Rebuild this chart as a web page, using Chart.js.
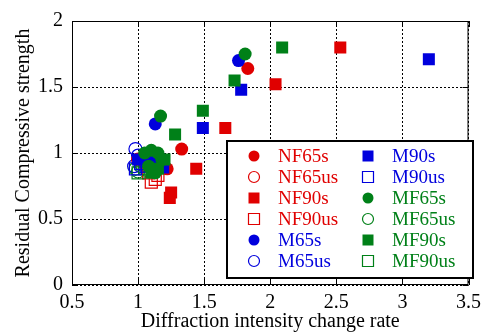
<!DOCTYPE html>
<html>
<head>
<meta charset="utf-8">
<script src="https://cdn.jsdelivr.net/npm/chart.js@4/dist/chart.umd.min.js"></script>
<style>
  html, body { margin: 0; padding: 0; background: #fff; }
  #wrap { width: 487px; height: 336px; }
</style>
</head>
<body>
<div id="wrap"><canvas id="chart"></canvas></div>
<script>
// Data
const xTicks = [0.5, 1, 1.5, 2, 2.5, 3, 3.5];
const yTicks = [0, 0.5, 1, 1.5, 2];

const nf65s  = [[1.83, 1.64], [1.33, 1.03], [1.22, 0.88], [1.12, 0.95]];
const nf65us = [[1.05, 0.92], [1.10, 0.88], [1.00, 0.95]];
const nf90s  = [[2.53, 1.80], [2.04, 1.52], [1.66, 1.19], [1.44, 0.88], [1.25, 0.70], [1.24, 0.66]];
const nf90us = [[1.10, 0.78], [1.13, 0.80], [1.15, 0.83], [1.08, 0.85]];
const m65s   = [[1.76, 1.70], [1.13, 1.22], [1.05, 0.95], [1.10, 0.90]];
const m65us  = [[0.98, 1.03], [1.00, 0.98], [1.02, 0.92], [0.97, 0.90]];
const m90s   = [[3.20, 1.71], [1.78, 1.48], [1.49, 1.19], [1.19, 0.89], [1.08, 0.93], [1.12, 0.97], [1.00, 0.95]];
const m90us  = [[1.02, 0.92], [1.06, 0.90], [1.12, 0.93], [1.15, 0.95], [0.98, 0.88]];
const mf65s  = [[1.81, 1.75], [1.17, 1.28], [1.10, 1.02], [1.15, 1.00], [1.05, 1.00], [1.18, 0.95], [1.08, 0.90], [1.13, 0.85]];
const mf65us = [[0.98, 0.88], [1.00, 0.86], [1.02, 0.90]];
const mf90s  = [[2.09, 1.80], [1.73, 1.55], [1.49, 1.32], [1.28, 1.14], [1.20, 0.95], [1.15, 0.88], [1.10, 0.85]];
const mf90us = [[1.00, 0.85], [1.05, 0.88], [1.03, 0.92]];

const RED = '#e00000', BLUE = '#0000dd', GREEN = '#008018';

function series(label, pts, color, shape, filled, order) {
    return {
        label: label,
        data: pts.map(p => ({ x: p[0], y: p[1] })),
        pointStyle: shape,
        pointRadius: shape === 'rect' ? 8.5 : 6.5,
        pointHoverRadius: shape === 'rect' ? 8.5 : 6.5,
        backgroundColor: filled ? color : 'rgba(0,0,0,0)',
        borderColor: color,
        borderWidth: filled ? 0 : 1.2,
        order: order
    };
}

const datasets = [
    series('NF65s', nf65s, RED, 'circle', true, 5),
    series('NF65us', nf65us, RED, 'circle', false, 8),
    series('NF90s', nf90s, RED, 'rect', true, 6),
    series('NF90us', nf90us, RED, 'rect', false, 9),
    series('M65s', m65s, BLUE, 'circle', true, 3),
    series('M65us', m65us, BLUE, 'circle', false, 10),
    series('M90s', m90s, BLUE, 'rect', true, 2),
    series('M90us', m90us, BLUE, 'rect', false, 4),
    series('MF65s', mf65s, GREEN, 'circle', true, 0),
    series('MF65us', mf65us, GREEN, 'circle', false, 11),
    series('MF90s', mf90s, GREEN, 'rect', true, 1),
    series('MF90us', mf90us, GREEN, 'rect', false, 7)
];

const FONT = '"Liberation Serif", "Times New Roman", serif';

// box, inward ticks and legend
const framePlugin = {
    id: 'frame',
    afterDraw(chart) {
        const ctx = chart.ctx;
        const a = chart.chartArea;
        const xs = chart.scales.x, ys = chart.scales.y;
        ctx.save();
        ctx.strokeStyle = '#000';
        ctx.lineWidth = 1;
        ctx.strokeRect(a.left + 0.5, a.top + 0.5, a.right - a.left - 1, a.bottom - a.top - 1);
        ctx.beginPath();
        xTicks.forEach(v => {
            const px = Math.round(xs.getPixelForValue(v)) + 0.5;
            ctx.moveTo(px, a.bottom); ctx.lineTo(px, a.bottom - 6);
            ctx.moveTo(px, a.top); ctx.lineTo(px, a.top + 6);
        });
        yTicks.forEach(v => {
            const py = Math.round(ys.getPixelForValue(v)) + 0.5;
            ctx.moveTo(a.left, py); ctx.lineTo(a.left + 6, py);
            ctx.moveTo(a.right, py); ctx.lineTo(a.right - 6, py);
        });
        ctx.stroke();

        // legend box
        const bx = 227, by = 141, bw = 246, bh = 137;
        ctx.fillStyle = '#fff';
        ctx.fillRect(bx, by, bw, bh);
        ctx.lineWidth = 2;
        ctx.strokeRect(bx, by, bw, bh);

        ctx.font = '19px ' + FONT;
        ctx.textBaseline = 'middle';
        ctx.textAlign = 'left';
        chart.data.datasets.forEach((ds, i) => {
            const col = Math.floor(i / 6), row = i % 6;
            const mx = col === 0 ? 254 : 368;
            const my = 156 + row * 21;
            ctx.beginPath();
            if (ds.pointStyle === 'circle') {
                ctx.arc(mx, my, 5.5, 0, Math.PI * 2);
            } else {
                ctx.rect(mx - 5.5, my - 5.5, 11, 11);
            }
            if (ds.backgroundColor !== 'rgba(0,0,0,0)') {
                ctx.fillStyle = ds.borderColor;
                ctx.fill();
            } else {
                ctx.strokeStyle = ds.borderColor;
                ctx.lineWidth = 1.2;
                ctx.stroke();
            }
            ctx.fillStyle = ds.borderColor;
            ctx.fillText(ds.label, mx + 24, my + 1);
        });
        ctx.restore();
    }
};

new Chart(document.getElementById('chart'), {
    type: 'scatter',
    data: { datasets: datasets },
    options: {
        responsive: true,
        maintainAspectRatio: false,
        animation: false,
        layout: { padding: { top: 18, right: 13, left: 0, bottom: 0 } },
        plugins: {
            legend: { display: false },
            tooltip: { enabled: false }
        },
        scales: {
            x: {
                type: 'linear',
                min: 0.5, max: 3.5,
                afterBuildTicks: s => { s.ticks = xTicks.map(v => ({ value: v })); },
                afterFit: s => { s.height = 51; },
                grid: { color: '#000', lineWidth: 1, drawTicks: false },
                border: { display: false, dash: [2, 2] },
                ticks: {
                    color: '#000', padding: 6,
                    font: { family: FONT, size: 20 },
                    maxRotation: 0,
                    callback: v => String(v)
                },
                title: {
                    display: true,
                    text: 'Diffraction intensity change rate',
                    color: '#000',
                    font: { family: FONT, size: 20 },
                    padding: { top: 0, bottom: 2 }
                }
            },
            y: {
                type: 'linear',
                min: 0, max: 2,
                afterBuildTicks: s => { s.ticks = yTicks.map(v => ({ value: v })); },
                afterFit: s => { s.width = 72; },
                grid: { color: '#000', lineWidth: 1, drawTicks: false },
                border: { display: false, dash: [2, 2] },
                ticks: {
                    color: '#000', padding: 9,
                    font: { family: FONT, size: 20 },
                    callback: v => String(v)
                },
                title: {
                    display: true,
                    text: 'Residual Compressive strength',
                    color: '#000',
                    font: { family: FONT, size: 20 },
                    padding: { top: 12, bottom: 4 }
                }
            }
        }
    },
    plugins: [framePlugin]
});
</script>
</body>
</html>
